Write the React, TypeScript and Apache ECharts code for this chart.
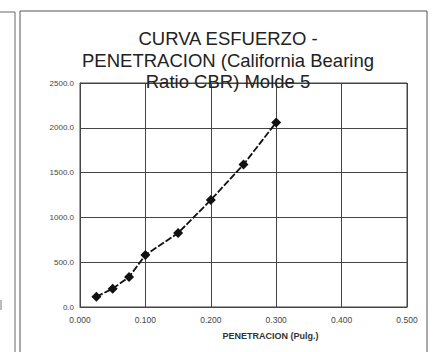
import React, { useEffect, useRef } from "react";
import * as echarts from "echarts";

const penetration = [0.025, 0.05, 0.075, 0.1, 0.15, 0.2, 0.25, 0.3];
const stress = [115, 205, 335, 580, 825, 1195, 1590, 2060];
const yTicks = [0, 500, 1000, 1500, 2000, 2500];
const xTicks = [0, 0.1, 0.2, 0.3, 0.4, 0.5];
const titleText = "CURVA ESFUERZO -\nPENETRACION (California Bearing\nRatio CBR) Molde 5";
const xName = "PENETRACION (Pulg.)";

export default function App() {
  const ref = useRef<HTMLDivElement>(null);
  useEffect(() => {
    document.body.style.margin = "0";
    const chart = echarts.init(ref.current!, undefined, { renderer: "svg" });
    chart.setOption({
      animation: false,
      backgroundColor: "#ffffff",
      title: {
        text: titleText,
        left: 223,
        textAlign: "center",
        top: 23,
        textStyle: {
          fontFamily: "Liberation Sans",
          fontSize: 18.5,
          fontWeight: "normal",
          color: "#222",
          lineHeight: 21.5,
        },
      },
      graphic: [
        { type: "rect", shape: { x: 20, y: 11, width: 407, height: 345 }, style: { fill: "none", stroke: "#555", lineWidth: 1 } },
        { type: "line", shape: { x1: 15, y1: 12, x2: 15, y2: 352 }, style: { stroke: "#666", lineWidth: 1 } },
        { type: "line", shape: { x1: 0, y1: 12, x2: 15, y2: 12 }, style: { stroke: "#666", lineWidth: 1 } },
        { type: "line", shape: { x1: 1, y1: 300, x2: 1, y2: 310 }, style: { stroke: "#777", lineWidth: 1 } },
      ],
      grid: { left: 80, right: 28, top: 83, bottom: 45, show: true, borderColor: "#444", borderWidth: 1 },
      xAxis: {
        type: "value",
        min: xTicks[0],
        max: xTicks[xTicks.length - 1],
        interval: 0.1,
        name: xName,
        nameLocation: "middle",
        nameGap: 24,
        nameTextStyle: { fontFamily: "Liberation Sans", fontSize: 9, fontWeight: "bold", color: "#333", padding: [0, 0, 0, 54] },
        axisLine: { lineStyle: { color: "#444" } },
        axisTick: { show: false },
        axisLabel: { fontFamily: "Liberation Sans", fontSize: 8.5, color: "#444", margin: 8, formatter: (v: number) => v.toFixed(3) },
        splitLine: { show: true, lineStyle: { color: "#444", width: 1 } },
      },
      yAxis: {
        type: "value",
        min: yTicks[0],
        max: yTicks[yTicks.length - 1],
        interval: 500,
        axisLine: { lineStyle: { color: "#444" } },
        axisTick: { show: false },
        axisLabel: { fontFamily: "Liberation Sans", fontSize: 8, color: "#444", margin: 6, formatter: (v: number) => v.toFixed(1) },
        splitLine: { show: true, lineStyle: { color: "#444", width: 1 } },
      },
      series: [
        {
          type: "line",
          data: penetration.map((x, i) => [x, stress[i]]),
          symbol: "diamond",
          symbolSize: 10,
          itemStyle: { color: "#111" },
          lineStyle: { color: "#111", width: 1.8, type: [7, 2] },
        },
      ],
    });
    return () => chart.dispose();
  }, []);
  return <div ref={ref} style={{ position: "absolute", left: 0, top: 0, width: 435, height: 352 }} />;
}
